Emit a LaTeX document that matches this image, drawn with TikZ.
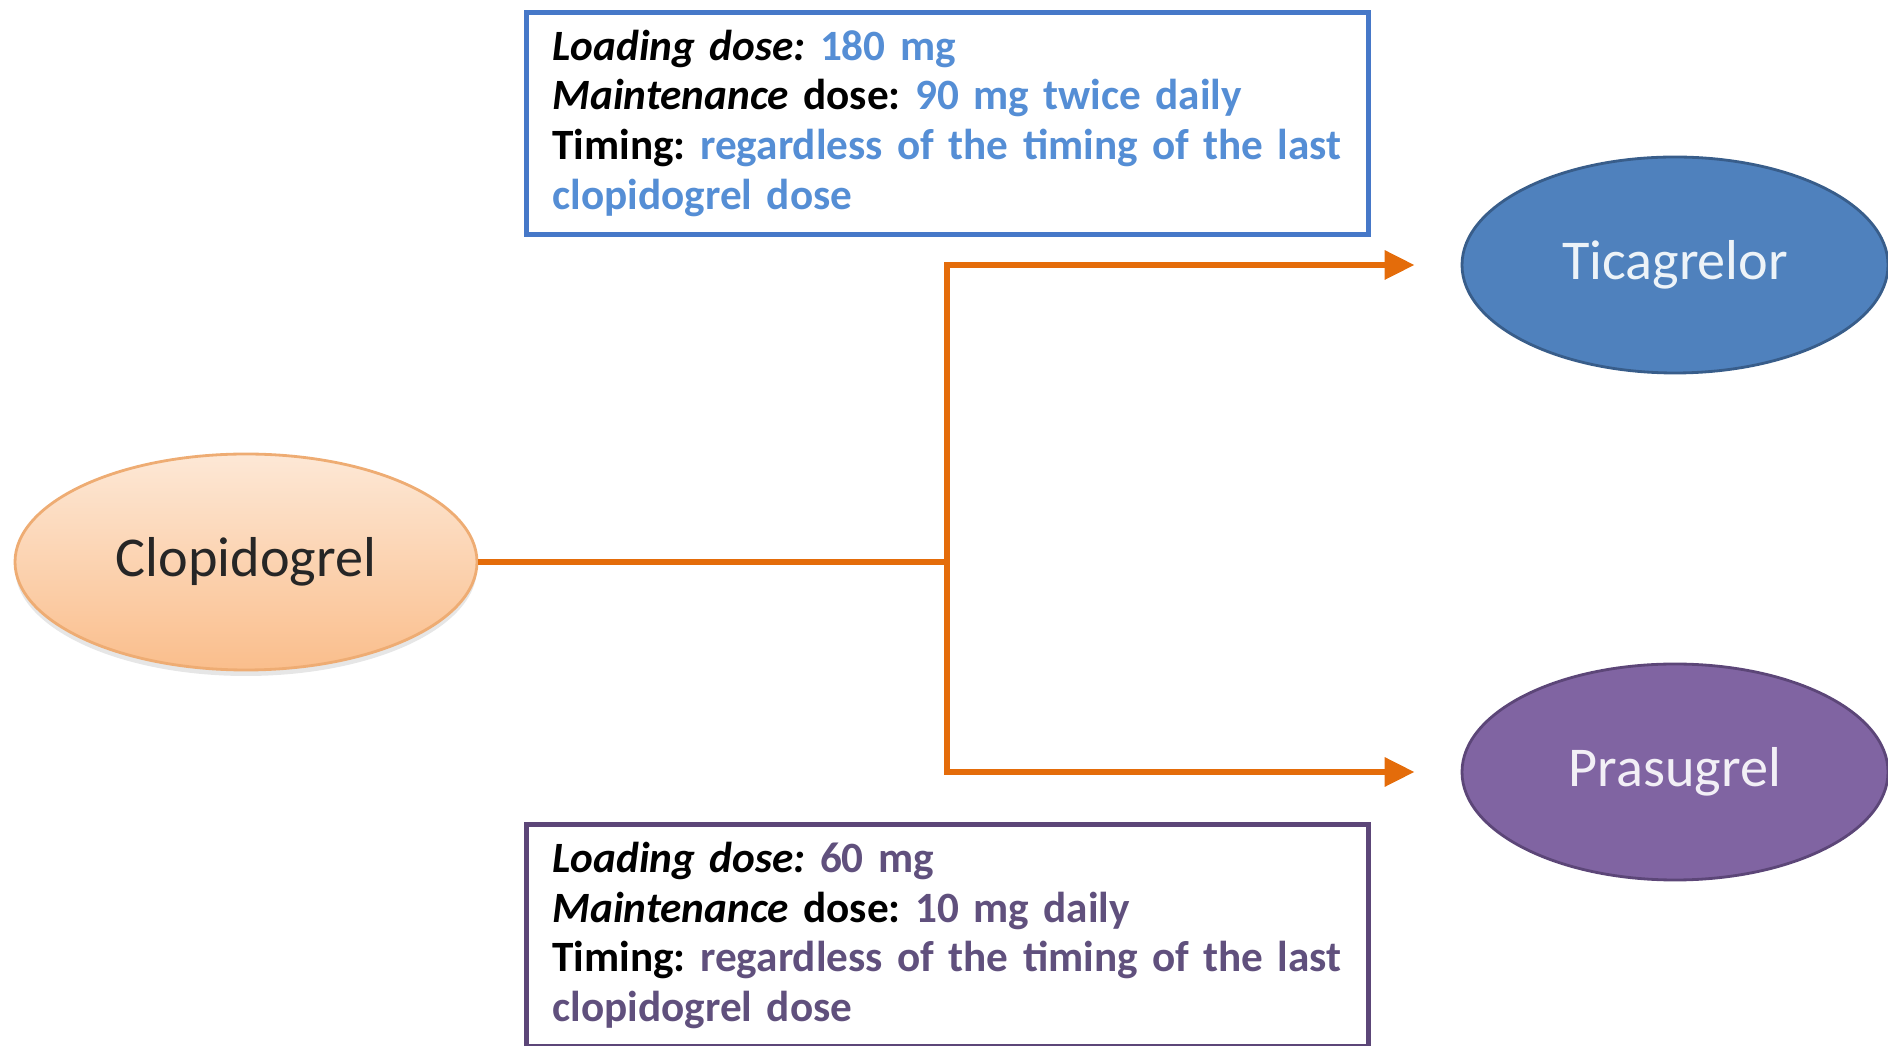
\documentclass[tikz,border=0pt]{standalone}
\usepackage{fontspec}
\setmainfont{Carlito}[WordSpace=0.85]
\usepackage{tikz}
\usetikzlibrary{shapes.geometric, arrows.meta, positioning, shadows}
\definecolor{TicaBlue}{RGB}{79, 129, 189}
\definecolor{TicaEdge}{RGB}{56, 93, 138}
\definecolor{TicaText}{RGB}{85, 142, 213}
\definecolor{TicaFrame}{RGB}{70, 120, 200}
\definecolor{PrasPurple}{RGB}{128, 100, 162}
\definecolor{PrasEdge}{RGB}{92, 70, 120}
\definecolor{PrasText}{RGB}{96, 80, 125}
\definecolor{ClopTop}{RGB}{253, 232, 214}
\definecolor{ClopBottom}{RGB}{250, 190, 140}
\definecolor{ClopEdge}{RGB}{238, 172, 115}
\definecolor{ArrowOrange}{RGB}{228, 108, 10}
\frenchspacing

\begin{document}
\begin{tikzpicture}[
  drug/.style={ellipse, minimum width=4.26cm, minimum height=2.16cm, inner sep=0pt, line width=0.8pt, font=\fontsize{16}{19}\selectfont},
  dosebox/.style={draw, line width=1.4pt, anchor=north west, fill=white, text width=7.9cm, minimum height=2.22cm, align=left, inner xsep=0.26cm, inner ysep=0pt, font=\bfseries\fontsize{12.3}{14.2}\selectfont},
  flow/.style={draw=ArrowOrange, line width=1.8pt, -{Triangle[length=3mm, width=2.8mm]}, shorten >=4.6mm}
]
\useasboundingbox (0, 0) rectangle (18.88, 10.45);
% the three drugs
\node[drug, minimum width=4.62cm, top color=ClopTop, bottom color=ClopBottom, draw=ClopEdge, drop shadow={opacity=0.2, shadow xshift=0pt, shadow yshift=-0.6mm}, text=black!85] (clop) at (2.46, 4.83) {Clopidogrel};
\node[drug, fill=TicaBlue, draw=TicaEdge, text=white!90!TicaBlue] (tica) at (16.75, 7.80) {Ticagrelor};
\node[drug, fill=PrasPurple, draw=PrasEdge, text=white!90!PrasPurple] (pras) at (16.75, 2.73) {Prasugrel};
% switching arrows
\coordinate (split) at (9.47, 4.83);
\draw[ArrowOrange, line width=1.8pt] (clop.east) -- (split);
\draw[flow] (split) |- (tica.west);
\draw[flow] (split) |- (pras.west);
% dosing boxes
\node[dosebox, draw=TicaFrame] (ticadose) at (5.24, 10.35) {\textit{Loading dose:} \textcolor{TicaText}{180 mg}\\
\textit{Maintenance} dose: \textcolor{TicaText}{90 mg twice daily}\\
Timing: \textcolor{TicaText}{regardless of the timing of the last}\\
\textcolor{TicaText}{clopidogrel dose}};
\node[dosebox, draw=PrasEdge] (prasdose) at (5.24, 2.23) {\textit{Loading dose:} \textcolor{PrasText}{60 mg}\\
\textit{Maintenance} dose: \textcolor{PrasText}{10 mg daily}\\
Timing: \textcolor{PrasText}{regardless of the timing of the last}\\
\textcolor{PrasText}{clopidogrel dose}};
\end{tikzpicture}
\end{document}
